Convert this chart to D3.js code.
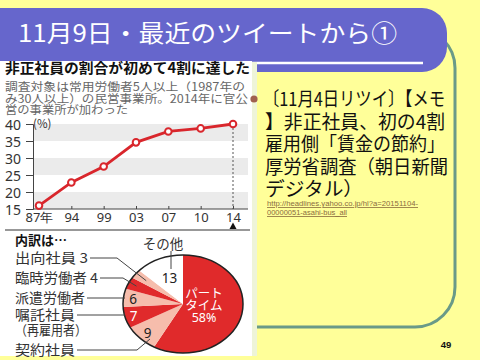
<!DOCTYPE html>
<html><head><meta charset="utf-8">
<script src="https://cdn.jsdelivr.net/npm/d3@7"></script>
<style>
body{margin:0;background:#ffff99;}
svg{display:block;}
text{font-family:"Noto Sans CJK JP","Noto Sans",sans-serif;}
</style>
</head><body>
<svg id="c" width="480" height="360"></svg>
<script>
// ---- data ----
const slideTitle = "11月9日・最近のツイートから①";
const chartHeading = "非正社員の割合が初めて4割に達した";
const chartNote = ["調査対象は常用労働者5人以上（1987年の", "み30人以上）の民営事業所。2014年に官公", "営の事業所が加わった"];
const years = ["87年", "94", "99", "03", "07", "10", "14"];
const shares = [16.0, 22.8, 27.5, 34.6, 37.8, 38.7, 40.0];
const yTicks = [15, 20, 25, 30, 35, 40];
const breakdownNames = ["パートタイム", "契約社員", "嘱託社員", "派遣労働者", "臨時労働者", "出向社員", "その他"];
const breakdownValues = [58, 9, 7, 6, 4, 3, 13];
const tweetLines = ["〔11月4日リツイ〕【メモ", "】非正社員、初の4割", "雇用側「賃金の節約」", "厚労省調査（朝日新聞", "デジタル）"];
const linkLines = ["http://headlines.yahoo.co.jp/hl?a=20151104-", "00000051-asahi-bus_all"];
const pageNo = "49";

const svg = d3.select("#c");
svg.append("rect").attr("width", 480).attr("height", 360).attr("fill", "#ffff99");

// frame
svg.append("rect").attr("x", 150).attr("y", 28).attr("width", 305).attr("height", 299)
  .attr("rx", 40).attr("fill", "none").attr("stroke", "#6a9a88").attr("stroke-width", 3);

// title bar
svg.append("path").attr("d", "M-5,8 H422 A25,25 0 0 1 447,33 V47 A25,25 0 0 1 422,72 H-5 Z")
  .attr("fill", "#6666cc");
svg.append("line").attr("x1", 0).attr("x2", 423).attr("y1", 63).attr("y2", 63)
  .attr("stroke", "#fff").attr("stroke-width", 2.5);
svg.append("text").attr("x", 18).attr("y", 42).attr("fill", "#fff").attr("font-size", 24)
  .attr("textLength", 379).attr("lengthAdjust", "spacingAndGlyphs").text(slideTitle);

// image panel
svg.append("rect").attr("x", 252).attr("y", 62).attr("width", 5).attr("height", 294).attr("fill", "#eef4d8");
svg.append("rect").attr("x", 0).attr("y", 61).attr("width", 252).attr("height", 295).attr("fill", "#fff");

svg.append("text").attr("x", 5).attr("y", 72.5).attr("font-size", 14.2).attr("font-weight", "bold")
  .attr("fill", "#111").attr("textLength", 245).attr("lengthAdjust", "spacingAndGlyphs").text(chartHeading);
const noteW = [240, 243, 123];
chartNote.forEach((t, i) => {
  svg.append("text").attr("x", 5).attr("y", 91 + i * 11.6).attr("font-size", 11.2)
    .attr("fill", "#666").attr("textLength", noteW[i]).attr("lengthAdjust", "spacingAndGlyphs").text(t);
});

// line chart
const x = d3.scalePoint().domain(years).range([39, 233]);
const y = d3.scaleLinear().domain([15, 40]).range([209, 124]);
const g = svg.append("g");
[[35, 40], [25, 30], [15, 20]].forEach(b => {
  g.append("rect").attr("x", 33).attr("width", 215).attr("y", y(b[1])).attr("height", y(b[0]) - y(b[1]))
    .attr("fill", "#ebebeb");
});
const ya = g.append("g").attr("transform", "translate(33,0)")
  .call(d3.axisLeft(y).tickValues(yTicks).tickSize(7).tickPadding(5));
ya.select(".domain").attr("stroke", "#444");
ya.selectAll(".tick line").attr("stroke", "#444");
ya.selectAll("text").attr("font-size", 14).attr("fill", "#333").attr("dy", "0.36em")
  .style("font-family", "'Noto Sans','Liberation Sans',sans-serif");
const xa = g.append("g").attr("transform", "translate(0,209)")
  .call(d3.axisBottom(x).tickSize(3).tickSizeOuter(0).tickPadding(1));
xa.select(".domain").attr("d", "M33,0H248").attr("stroke", "#444");
xa.selectAll(".tick line").attr("stroke", "#444").attr("y2", -3);
xa.selectAll("text").attr("font-size", 13).attr("fill", "#333")
  .style("font-family", "'Noto Sans','Liberation Sans',sans-serif");
g.append("text").attr("x", 33).attr("y", 128).attr("font-size", 11.5).attr("fill", "#333").text("(%)");
const last = years[years.length - 1];
g.append("line").attr("x1", x(last)).attr("x2", x(last)).attr("y1", y(shares[shares.length - 1])).attr("y2", y(15))
  .attr("stroke", "#555").attr("stroke-dasharray", "2,2").attr("stroke-width", 1);
g.append("path").attr("d", `M${x(last)},222.5 L${x(last) - 3.5},229 L${x(last) + 3.5},229 Z`).attr("fill", "#111");
g.append("line").attr("x1", 5).attr("x2", 250).attr("y1", 230).attr("y2", 230).attr("stroke", "#333").attr("stroke-width", 1.2);
g.append("path").datum(shares).attr("fill", "none").attr("stroke", "#d9262c").attr("stroke-width", 2.8)
  .attr("d", d3.line().x((d, i) => x(years[i])).y(d => y(d)));
g.selectAll("circle.pt").data(shares).enter().append("circle").attr("class", "pt")
  .attr("cx", (d, i) => x(years[i])).attr("cy", d => y(d)).attr("r", 3.3)
  .attr("fill", "#fff").attr("stroke", "#d9262c").attr("stroke-width", 2);

// pie
const cx = 183, cy = 304, ry = 49, sx = 60 / 49;
const red = "#e02a2b", pink = "#f6bdac";
const colors = [red, pink, red, pink, red, pink, "#fff"];
const pie = d3.pie().sort(null).value(d => d)(breakdownValues);
const arc = d3.arc().innerRadius(0).outerRadius(ry);
const pg = svg.append("g").attr("transform", `translate(${cx},${cy}) scale(${sx},1)`);
pg.selectAll("path").data(pie).enter().append("path").attr("d", arc).attr("fill", (d, i) => colors[i]);
pg.append("circle").attr("r", ry).attr("fill", "none").attr("stroke", "#222").attr("stroke-width", 1.5)
  .attr("vector-effect", "non-scaling-stroke");
const pt = (a, r) => [cx + Math.sin(a) * r * sx, cy - Math.cos(a) * r];
const mid = d => (d.startAngle + d.endAngle) / 2;

// labels inside
const valR = [0, 41, 42, 41, 0, 0, 28];
const valCol = [null, "#222", "#fff", "#222", null, null, "#222"];
pie.forEach((d, i) => {
  if (!valR[i]) return;
  const p = pt(mid(d), valR[i]);
  svg.append("text").attr("x", p[0]).attr("y", p[1]).attr("dy", "0.36em").attr("text-anchor", "middle")
    .attr("font-size", 13.5).attr("fill", valCol[i]).style("font-family", "'Noto Sans',sans-serif").text(breakdownValues[i]);
});
const pp = [204, 305];
["パート", "タイム"].forEach((t, k) => svg.append("text").attr("x", pp[0]).attr("y", pp[1] - 12 + k * 12)
  .attr("dy", "0.36em").attr("text-anchor", "middle").attr("font-size", 12.5).attr("fill", "#fff").text(t));
svg.append("text").attr("x", pp[0]).attr("y", pp[1] + 12.5).attr("dy", "0.36em").attr("text-anchor", "middle")
  .attr("font-size", 12.5).attr("fill", "#fff").style("font-family", "'Noto Sans',sans-serif").text(breakdownValues[0] + "%");

// left labels
svg.append("text").attr("x", 15).attr("y", 245).attr("font-size", 13).attr("font-weight", "bold").attr("fill", "#111").text("内訳は…");
const lab = (t, yy, w) => svg.append("text").attr("x", 15).attr("y", yy).attr("dy", "0.36em").attr("font-size", 13.5)
  .attr("fill", "#333").attr("textLength", w).attr("lengthAdjust", "spacingAndGlyphs").text(t);
lab(breakdownNames[5] + " " + breakdownValues[5], 258, 73);
lab(breakdownNames[4] + " " + breakdownValues[4], 278, 83);
lab(breakdownNames[3], 298, 70);
lab(breakdownNames[2], 315, 60);
lab("（再雇用者）", 330, 72);
lab(breakdownNames[1], 350, 60);
svg.append("text").attr("x", 163).attr("y", 244).attr("dy", "0.36em").attr("text-anchor", "middle")
  .attr("font-size", 13.5).attr("fill", "#333").text(breakdownNames[6]);

const lead = pts => svg.append("polyline").attr("points", pts.map(p => p.join(",")).join(" "))
  .attr("fill", "none").attr("stroke", "#444").attr("stroke-width", 1);
lead([[90, 258], [117, 258], pt(mid(pie[5]), 38)]);
lead([[100, 278], [123, 278], pt(mid(pie[4]), 42)]);
lead([[87, 298], [125, 298]]);
lead([[77, 315], [125, 315]]);
lead([[77, 350], [137, 350], [150, 339]]);
lead([[171, 251], [171, 269]]);

// right text
svg.append("circle").attr("cx", 254).attr("cy", 99).attr("r", 3.6).attr("fill", "#a0604f");
const tw = [182, 182, 182, 185, 100];
tweetLines.forEach((t, i) => {
  svg.append("text").attr("x", 263 + (i ? 2 : 0)).attr("y", 106 + i * 22.6).attr("font-size", 19)
    .attr("fill", "#111").attr("textLength", tw[i] - (i ? 2 : 0)).attr("lengthAdjust", "spacingAndGlyphs").text(t);
});
const lw = [151, 80];
linkLines.forEach((t, i) => {
  svg.append("text").attr("x", 267).attr("y", 206 + i * 9).attr("font-size", 8).attr("fill", "#8a6b3e")
    .style("text-decoration", "underline").style("font-family", "'Liberation Sans',sans-serif")
    .attr("textLength", lw[i]).attr("lengthAdjust", "spacingAndGlyphs").text(t);
});
svg.append("text").attr("x", 446).attr("y", 347.5).attr("text-anchor", "middle").attr("font-size", 9.5)
  .attr("font-weight", "bold").attr("fill", "#111").style("font-family", "'Liberation Sans',sans-serif").text(pageNo);
</script>
</body></html>
